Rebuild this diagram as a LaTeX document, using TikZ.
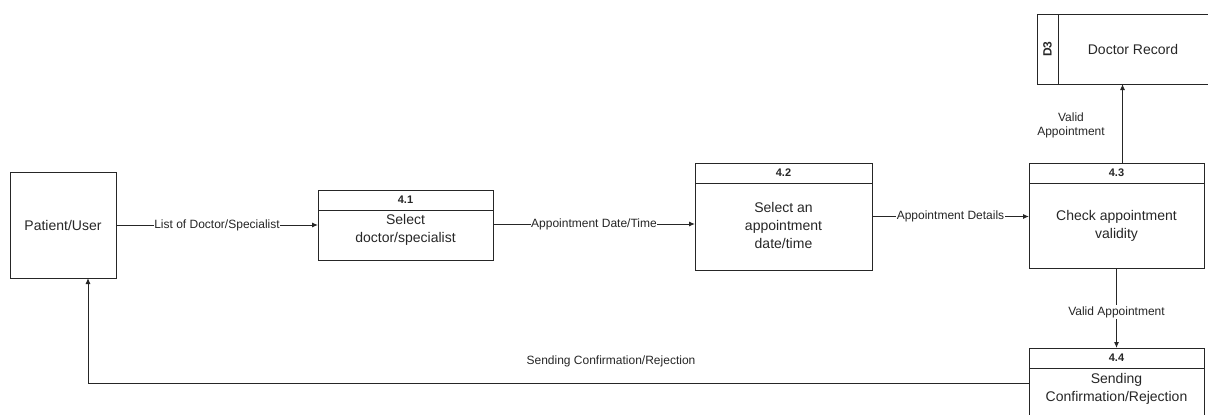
\documentclass[tikz,border=0pt]{standalone}
\usepackage{fontspec}
\setmainfont{Liberation Sans}
\usetikzlibrary{arrows.meta,calc}
\begin{document}
\begin{tikzpicture}[x=1pt,y=-1pt,
  line width=1pt,
  every node/.style={inner sep=0pt,outer sep=0pt},
  box/.style={draw=black!85,rectangle},
  big/.style={font=\fontsize{14}{18}\selectfont,align=center,text=black!85},
  lbl/.style={font=\fontsize{12}{14}\selectfont,text=black!85,align=center},
  onl/.style={lbl,fill=white,inner xsep=0.5pt,inner ysep=1pt},
  hdr/.style={font=\fontsize{11}{13}\selectfont\bfseries,text=black!85},
  flow/.style={draw=black!85,-{Latex[length=6pt,width=5pt]}}]
\useasboundingbox (0,0) rectangle (1208,415);
\clip (0,0) rectangle (1208,415);
% Patient/User
\node[box,minimum width=106pt,minimum height=106pt] (pat) at (63,225) {};
\node[big] (patt) at (63,225) {Patient/User};
% 4.1
\node[box,minimum width=175pt,minimum height=70pt] (p41) at (405.5,225) {};
\draw[black!85] (318,210) -- (493,210);
\node[hdr] (h41) at (405.5,200) {4.1};
\node[big] (t41) at (405.5,230) {Select\\doctor/specialist};
% 4.2
\node[box,minimum width=177pt,minimum height=107pt] (p42) at (783.5,216.5) {};
\draw[black!85] (695,183) -- (872,183);
\node[hdr] (h42) at (783.5,173) {4.2};
\node[big] (t42) at (783.5,225) {Select an\\appointment\\date/time};
% 4.3
\node[box,minimum width=175pt,minimum height=105pt] (p43) at (1116.5,215.5) {};
\draw[black!85] (1029,183) -- (1204,183);
\node[hdr] (h43) at (1116.5,173) {4.3};
\node[big] (t43) at (1116.5,226) {Check appointment\\validity};
% 4.4
\node[box,minimum width=175pt,minimum height=90pt] (p44) at (1116.5,393) {};
\draw[black!85] (1029,368) -- (1204,368);
\node[hdr] (h44) at (1116.5,358) {4.4};
\node[big] (t44) at (1116.5,388.5) {Sending\\Confirmation/Rejection};
% D3
\node[minimum width=171pt,minimum height=70pt] (d3) at (1122.5,49) {};
\draw[black!85] (1208,14) -- (1037,14) -- (1037,84) -- (1208,84);
\draw[black!85] (1058,14) -- (1058,84);
\node[hdr,font=\fontsize{12}{14}\selectfont\bfseries,rotate=90] (d3id) at (1047.5,49) {D3};
\node[big] (d3t) at (1133,49) {Doctor Record};
% flows
\draw[flow] (pat.east) -- node[onl] (l1) {List of Doctor/Specialist} (pat.east -| p41.west);
\draw[flow] ($(p41.east)+(0,-1)$) -- node[onl] (l2) {Appointment Date/Time} ($(p41.east -| p42.west)+(0,-1)$);
\draw[flow] (p42.east) -- node[onl] (l3) {Appointment Details} (p42.east -| p43.west);
\draw[flow] (p43.north -| d3.south) -- (d3.south);
\node[lbl] (l4) at (1071,125) {Valid\\Appointment};
\draw[flow] (p43.south) -- node[onl,pos=0.55] (l5) {Valid Appointment} (p44.north);
\coordinate (c1) at (88,383);
\draw[flow] (p44.west |- c1) -- (c1) -- (c1 |- pat.south);
\node[lbl] (l6) at (611,361) {Sending Confirmation/Rejection};
\end{tikzpicture}
\end{document}
